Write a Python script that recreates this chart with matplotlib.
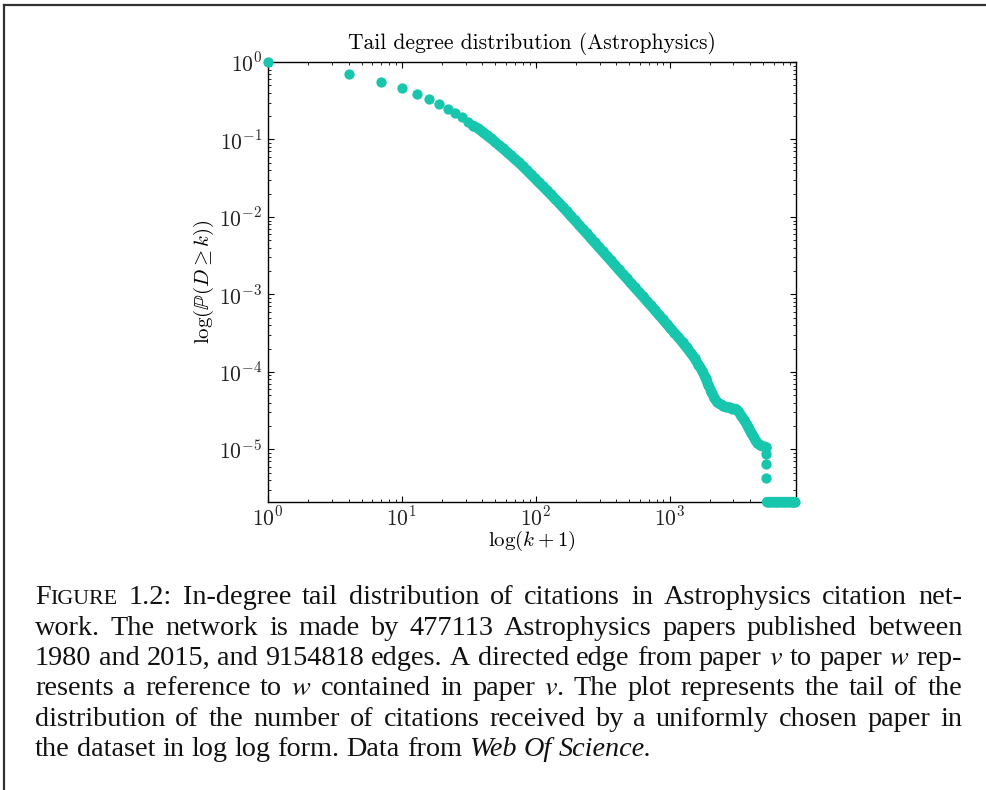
import numpy as np
import matplotlib.pyplot as plt
from matplotlib.lines import Line2D
from matplotlib.ticker import FuncFormatter

# log10(k+1) and log10 P(D >= k) for the first, well separated degrees
head_log_k1 = [0.000, 0.602, 0.845, 1.000, 1.114, 1.204, 1.279, 1.342, 1.398, 1.447, 1.491]
head_log_p = [0.000, -0.155, -0.254, -0.339, -0.412, -0.481, -0.541, -0.606, -0.661, -0.713, -0.769]

# the dense part of the tail, where consecutive points overlap
log_k1 = [1.531, 1.575, 1.604, 1.634, 1.664, 1.694, 1.724, 1.754, 1.784, 1.813, 1.843, 1.873,
          1.903, 1.933, 1.963, 1.993, 2.022, 2.052, 2.082, 2.112, 2.142, 2.172, 2.201, 2.231,
          2.261, 2.291, 2.321, 2.351, 2.381, 2.410, 2.440, 2.470, 2.500, 2.530, 2.560, 2.590,
          2.619, 2.649, 2.679, 2.709, 2.739, 2.769, 2.799, 2.828, 2.858, 2.888, 2.918, 2.948,
          2.978, 3.007, 3.037, 3.067, 3.097, 3.127, 3.157, 3.187, 3.216, 3.246, 3.269, 3.291,
          3.313, 3.336, 3.358, 3.381, 3.403, 3.425, 3.448, 3.470, 3.493, 3.515, 3.537, 3.560,
          3.582, 3.597, 3.612, 3.627, 3.642, 3.657, 3.679, 3.701, 3.724]
log_p = [-0.821, -0.862, -0.905, -0.945, -0.986, -1.027, -1.072, -1.116, -1.160, -1.205, -1.251, -1.296,
         -1.347, -1.398, -1.450, -1.501, -1.553, -1.604, -1.656, -1.709, -1.762, -1.814, -1.870, -1.927,
         -1.985, -2.041, -2.098, -2.156, -2.213, -2.271, -2.329, -2.387, -2.445, -2.503, -2.561, -2.619,
         -2.677, -2.735, -2.791, -2.851, -2.909, -2.966, -3.024, -3.082, -3.140, -3.200, -3.259, -3.318,
         -3.378, -3.437, -3.496, -3.555, -3.619, -3.684, -3.751, -3.823, -3.906, -3.988, -4.079, -4.170,
         -4.255, -4.336, -4.394, -4.420, -4.439, -4.452, -4.459, -4.472, -4.478, -4.510, -4.568, -4.626,
         -4.691, -4.742, -4.787, -4.832, -4.878, -4.916, -4.948, -4.961, -4.974]

# last isolated drops before the floor
drop_log_k1 = [3.724, 3.724, 3.724]
drop_log_p = [-5.064, -5.193, -5.365]

# degrees past the last observed one sit on the 1/N floor
n_papers = 477113
floor_log_k1 = [3.727, 3.745, 3.765, 3.785, 3.805, 3.825, 3.845, 3.865, 3.885, 3.905, 3.925, 3.940]

title = 'Tail degree distribution (Astrophysics)'
xlabel = r'$\log(k+1)$'
ylabel = r'$\log(\mathbb{P}(D \geq k))$'

# caption, one entry per printed line; *...* is italic
caption = [
    'FIGURE 1.2: In-degree tail distribution of citations in Astrophysics citation net-',
    'work. The network is made by 477113 Astrophysics papers published between',
    '1980 and 2015, and 9154818 edges. A directed edge from paper $v$ to paper $w$ rep-',
    'resents a reference to $w$ contained in paper $v$. The plot represents the tail of the',
    'distribution of the number of citations received by a uniformly chosen paper in',
    'the dataset in log log form. Data from *Web* *Of* *Science.*',
]

teal = '#17c6ac'
W, H = 986, 790
plt.rcParams['mathtext.fontset'] = 'cm'

fig = plt.figure(figsize=(W / 100, H / 100), dpi=100)
ax = fig.add_axes([268 / W, 1 - 502 / H, 528 / W, 440 / H])
ax.set_xscale('log')
ax.set_yscale('log')

dot = dict(marker='o', ms=7.4, mew=0, color=teal, clip_on=False, zorder=3)
ax.plot(10 ** np.array(head_log_k1), 10 ** np.array(head_log_p), ls='none', **dot)
# overlapping dots merge into a solid band
ax.plot(10 ** np.array(log_k1), 10 ** np.array(log_p), ls='-', lw=7.4,
        solid_capstyle='round', solid_joinstyle='round', **dot)
ax.plot(10 ** np.array(drop_log_k1), 10 ** np.array(drop_log_p), ls='none', **dot)
ax.plot(10 ** np.array(floor_log_k1), np.full(len(floor_log_k1), 1 / n_papers), ls='-', lw=7.4,
        solid_capstyle='round', **dot)

ax.set_xlim(1, 10 ** 3.945)
ax.set_ylim(1 / n_papers, 1)

pow10 = FuncFormatter(lambda v, pos: r'$10^{%d}$' % round(np.log10(v)))
ax.xaxis.set_major_formatter(pow10)
ax.yaxis.set_major_formatter(pow10)
ax.tick_params(which='both', direction='in', top=True, right=True, labelsize=15.5,
               labelcolor='#222222')
ax.tick_params(axis='x', pad=2.5)
ax.tick_params(axis='y', pad=4)
ax.tick_params(which='major', length=4.5, width=0.8)
ax.tick_params(which='minor', length=2.2, width=0.6)
for s in ax.spines.values():
    s.set_linewidth(1.0)

ax.set_title(title, fontfamily='cmr10', fontsize=15.5, pad=9.5)
ax.set_xlabel(xlabel, fontsize=15, labelpad=0)
ax.set_ylabel(ylabel, fontsize=15, labelpad=2)

# page frame on the left and top edges
fig.add_artist(Line2D([3.5 / W, 1], [1 - 4.5 / H, 1 - 4.5 / H], color='#333333', lw=1.6))
fig.add_artist(Line2D([3.5 / W, 3.5 / W], [0, 1 - 4.5 / H], color='#333333', lw=1.6))

# justified caption
cap_size = 20.3
cap_style = dict(family='Liberation Serif', fontsize=cap_size, color='#111111',
                 math_fontfamily='stix', va='baseline', ha='left')
x_left, x_right = 35, 962
space = 0.25 * cap_size * 100 / 72
renderer = fig.canvas.get_renderer()


def word_parts(word):
    if word == 'FIGURE':
        return [('F', {}), ('IGURE', {'fontsize': cap_size * 0.78})]
    parts = []
    for i, piece in enumerate(word.split('*')):
        if piece:
            parts.append((piece, {'fontstyle': 'italic'} if i % 2 else {}))
    return parts


for i, line in enumerate(caption):
    baseline = 604.5 + i * 30.3
    yf = 1 - baseline / H
    words = []
    for word in line.split(' '):
        items, w = [], 0.0
        for s, kw in word_parts(word):
            t = fig.text(0, yf, s, **{**cap_style, **kw})
            items.append((t, w))
            w += t.get_window_extent(renderer).width
        words.append((items, w))
    total = sum(w for _, w in words)
    if i < len(caption) - 1:
        gap = max((x_right - x_left - total) / (len(words) - 1), 2.0)
    else:
        gap = space
    x = x_left
    for items, w in words:
        for t, off in items:
            t.set_x((x + off) / W)
        x += w + gap

fig.savefig('out.png', dpi=100)
